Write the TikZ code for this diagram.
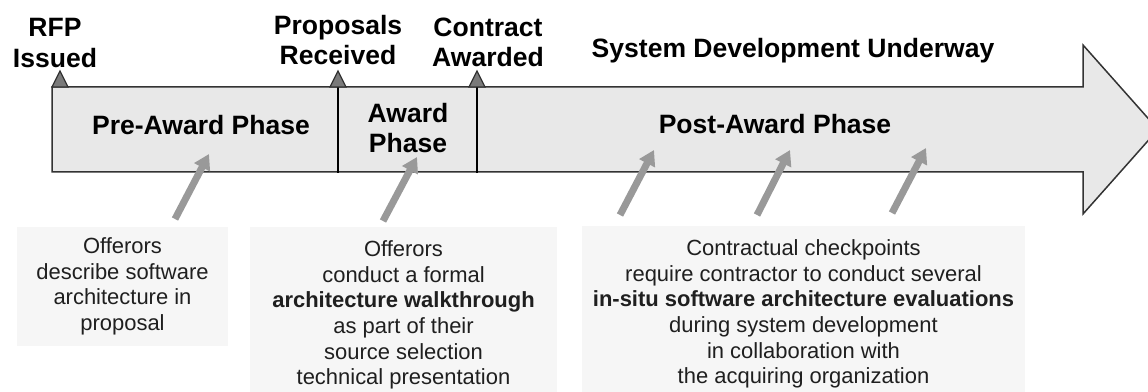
\documentclass[tikz,border=0pt]{standalone}
\usepackage{fontspec}
\setmainfont{Liberation Sans}
\usetikzlibrary{arrows.meta}
\definecolor{phasegray}{HTML}{E8E8E8}
\definecolor{notegray}{HTML}{F6F6F6}
\definecolor{pointgray}{HTML}{999999}

\begin{document}
\begin{tikzpicture}[x=0.2mm, y=-0.2mm,
    milestone/.style={draw=black!80, fill=black!52, line width=0.25mm},
    headlabel/.style={align=center, inner sep=0pt, font=\fontsize{15.1}{17.1}\selectfont\bfseries},
    notebox/.style={fill=notegray, align=center, inner sep=0pt, text=black!88, font=\fontsize{12.5}{14.6}\selectfont},
    pointer/.style={draw=pointgray, line width=1.4mm, -{Triangle[width=3.4mm,length=3mm]}}]
        \path[use as bounding box, clip] (0,0) rectangle (1148,392);
        \draw[line width=0.3mm, draw=black!80, fill=phasegray] (52,87) -- (1083,87) -- (1083,45) -- (1158,129.5) --
          (1083,214) -- (1083,172) -- (52,172) -- cycle;
        \draw[line width=0.3mm] (338,87) -- (338,173);
        \draw[line width=0.3mm] (477,87) -- (477,173);
        \draw[milestone] (52,87) -- (60,71) -- (68,87) -- cycle;
        \draw[milestone] (330,87) -- (338,71) -- (346,87) -- cycle;
        \draw[milestone] (469,87) -- (477,71) -- (485,87) -- cycle;
        \node[headlabel] (rfp) at (55,43) {RFP\\Issued};
        \node[headlabel] (received) at (338,40) {Proposals\\Received};
        \node[headlabel] (awarded) at (488,42) {Contract\\Awarded};
        \node[headlabel] (underway) at (793,51) {System Development Underway};
        \node[headlabel] (preaward) at (201,125) {Pre-Award Phase};
        \node[headlabel] (award) at (408,128) {Award\\Phase};
        \node[headlabel] (postaward) at (775,124) {Post-Award Phase};
        \node[notebox, minimum width=42.2mm, minimum height=23.8mm] (describe) at (122.5,286.5)
          {Offerors\\describe software\\architecture in\\proposal};
        \node[notebox, minimum width=61.4mm, minimum height=35.2mm] (walkthrough) at (403.5,315)
          {Offerors\\conduct a formal\\\textbf{architecture walkthrough}\\as part of their\\source selection\\technical presentation};
        \node[notebox, minimum width=88.6mm, minimum height=35.2mm] (insitu) at (803.5,314)
          {Contractual checkpoints\\require contractor to conduct several\\\textbf{in-situ software architecture evaluations}\\during system development\\in collaboration with\\the acquiring organization};
        \coordinate (tail1) at (175,219);
        \coordinate (tip1) at (209,154);
        \coordinate (tail2) at (383,221);
        \coordinate (tip2) at (417,157);
        \coordinate (tail3) at (620,215);
        \coordinate (tip3) at (654,150);
        \coordinate (tail4) at (757,215);
        \coordinate (tip4) at (790,150);
        \coordinate (tail5) at (892,213);
        \coordinate (tip5) at (926,148);
        \draw[pointer] (tail1) -- (tip1);
        \draw[pointer] (tail2) -- (tip2);
        \draw[pointer] (tail3) -- (tip3);
        \draw[pointer] (tail4) -- (tip4);
        \draw[pointer] (tail5) -- (tip5);
      \end{tikzpicture}
\end{document}
